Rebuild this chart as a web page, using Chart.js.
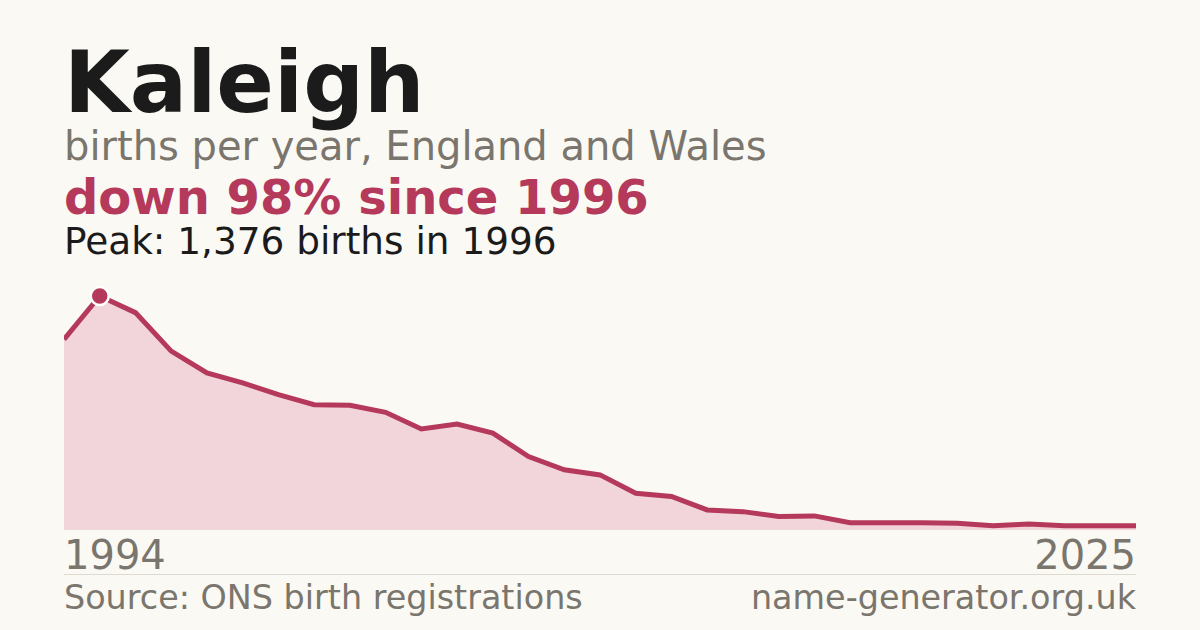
<!DOCTYPE html>
<html>
<head>
<meta charset="utf-8">
<script src="https://cdn.jsdelivr.net/npm/chart.js@4/dist/chart.umd.min.js"></script>
<style>
  html, body { margin: 0; padding: 0; }
  body {
    width: 1200px; height: 630px; overflow: hidden; position: relative;
    background: #faf9f4;
    font-family: "DejaVu Sans", sans-serif;
  }
  .txt { position: absolute; left: 64px; white-space: nowrap; line-height: 1; }
  #title { top: 40px; font-size: 85px; font-weight: bold; color: #1b1b1b; }
  #subtitle { top: 126px; font-size: 40px; color: #7a756d; }
  #change { top: 173px; font-size: 48px; font-weight: bold; color: #b5395a; }
  #peak { top: 223px; font-size: 37.4px; color: #1b1b1b; }
  .year { top: 535px; font-size: 40px; color: #7a756d; }
  .foot { top: 581px; font-size: 33.4px; color: #7a756d; }
  .right { left: auto; right: 64px; text-align: right; }
  #rule { position: absolute; left: 64px; top: 574px; width: 1072px; height: 1px; background: #dedad2; }
  #wrap { position: absolute; left: 64px; top: 260px; width: 1072px; height: 272px; }
</style>
</head>
<body>
<div class="txt" id="title">Kaleigh</div>
<div class="txt" id="subtitle">births per year, England and Wales</div>
<div class="txt" id="change">down 98% since 1996</div>
<div class="txt" id="peak">Peak: 1,376 births in 1996</div>
<div class="txt year" id="yearStart"></div>
<div class="txt year right" id="yearEnd"></div>
<div id="rule"></div>
<div class="txt foot">Source: ONS birth registrations</div>
<div class="txt foot right">name-generator.org.uk</div>
<div id="wrap"><canvas id="chart" width="1072" height="272"></canvas></div>

<script>
// Data
const years = [
    1995, 1996, 1997, 1998, 1999, 2000, 2001, 2002, 2003, 2004, 2005,
    2006, 2007, 2008, 2009, 2010, 2011, 2012, 2013, 2014, 2015,
    2016, 2017, 2018, 2019, 2020, 2021, 2022, 2023, 2024, 2025
];
const births = [
    1121, 1376, 1278, 1052, 924, 865, 796, 737, 733, 692, 594,
    623, 570, 432, 354, 324, 216, 197, 118, 108, 79,
    83, 43, 43, 43, 40, 25, 35, 25, 25, 25
];
const axisLabels = ['1994', '2025'];
const peakIndex = 1;

document.getElementById('yearStart').textContent = axisLabels[0];
document.getElementById('yearEnd').textContent = axisLabels[1];

const lineColor = '#b5395a';

const ctx = document.getElementById('chart').getContext('2d');
new Chart(ctx, {
    type: 'line',
    data: {
        labels: years,
        datasets: [{
            data: births,
            borderColor: lineColor,
            borderWidth: 5,
            backgroundColor: '#f2d5db',
            fill: 'origin',
            tension: 0,
            clip: false,
            pointRadius: births.map((v, i) => i === peakIndex ? 9 : 0),
            pointBackgroundColor: lineColor,
            pointBorderColor: '#ffffff',
            pointBorderWidth: 2.5
        }]
    },
    options: {
        responsive: false,
        animation: false,
        layout: { padding: { top: 36, bottom: 2, left: 0, right: 0 } },
        plugins: { legend: { display: false }, tooltip: { enabled: false } },
        scales: {
            x: { type: 'category', display: false, offset: false },
            y: { display: false, min: 0, max: 1376 }
        }
    }
});
</script>
</body>
</html>
